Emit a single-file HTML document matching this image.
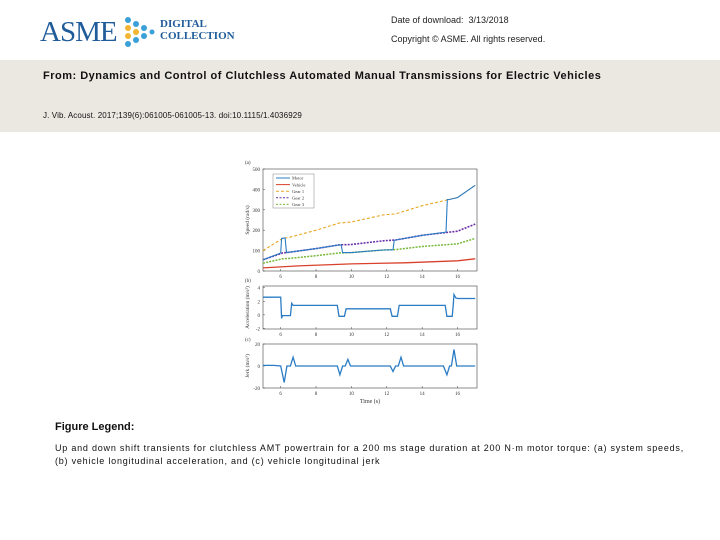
<!DOCTYPE html>
<html><head><meta charset="utf-8"><style>
body{margin:0;width:720px;height:540px;background:#fff;position:relative;overflow:hidden;font-family:"Liberation Sans",sans-serif}
.t{position:absolute;white-space:nowrap;color:#222}
</style></head><body>
<div style="position:absolute;left:38px;top:10px;width:200px;height:40px">
 <span style="position:absolute;left:2px;top:6px;font-family:'Liberation Serif',serif;font-size:29px;color:#1f5c99;letter-spacing:-1px">ASME</span>
 <svg style="position:absolute;left:84px;top:4px" width="34" height="34">
  <circle cx="6" cy="6" r="3" fill="#3aa0d8"/><circle cx="6" cy="14" r="3" fill="#f2b632"/><circle cx="6" cy="22" r="3" fill="#f2b632"/><circle cx="6" cy="30" r="3" fill="#3aa0d8"/>
  <circle cx="14" cy="10" r="3" fill="#3aa0d8"/><circle cx="14" cy="18" r="3" fill="#f2b632"/><circle cx="14" cy="26" r="3" fill="#3aa0d8"/>
  <circle cx="22" cy="14" r="3" fill="#3aa0d8"/><circle cx="22" cy="22" r="3" fill="#3aa0d8"/><circle cx="30" cy="18" r="2.5" fill="#3aa0d8"/>
 </svg>
 <span style="position:absolute;left:122px;top:8px;font-family:'Liberation Serif',serif;font-weight:bold;font-size:11px;color:#1f5c99;line-height:12px">DIGITAL<br>COLLECTION</span>
</div>
<div class="t" style="left:391px;top:15px;font-size:9px">Date of download:&nbsp; 3/13/2018</div>
<div class="t" style="left:391px;top:34px;font-size:9px">Copyright © ASME. All rights reserved.</div>
<div style="position:absolute;left:0;top:60px;width:720px;height:72px;background:#ebe8e2"></div>
<div class="t" style="left:43px;top:70px;font-size:11px;font-weight:bold;color:#111;letter-spacing:0.5px">From: Dynamics and Control of Clutchless Automated Manual Transmissions for Electric Vehicles</div>
<div class="t" style="left:43px;top:111px;font-size:8px;color:#111;letter-spacing:0.12px">J. Vib. Acoust. 2017;139(6):061005-061005-13. doi:10.1115/1.4036929</div>

<svg id="chart" style="position:absolute;left:0;top:0" width="720" height="540"></svg>

<div class="t" style="left:55px;top:421px;font-size:11px;font-weight:bold;color:#111">Figure Legend:</div>
<div class="t" style="left:55px;top:442px;font-size:9px;line-height:13px;color:#111;letter-spacing:0.78px">Up and down shift transients for clutchless AMT powertrain for a 200 ms stage duration at 200 N·m motor torque: (a) system speeds,<br>(b) vehicle longitudinal acceleration, and (c) vehicle longitudinal jerk</div>

<script>
const xTicks=[6,8,10,12,14,16];
const speedTicks=[0,100,200,300,400,500];
const accTicks=[-2,0,2,4];
const jerkTicks=[-20,0,20];
const motorT=[5,6.0,6.05,6.25,6.33,6.5,8,9.3,9.42,9.5,10,11.8,12.35,12.42,12.5,14,15.35,15.42,15.5,16,17];
const motorV=[55,88,160,162,90,92,110,128,128,90,90,103,104,150,152,175,190,350,350,360,420];
const vehT=[5,7,10,13,16,17];
const vehV=[15,25,35,40,50,60];
const gearT=[5,6.1,6.5,8,9.3,10,11.8,12.5,14,15.5,16,17];
const gear1V=[100,160,165,200,235,240,275,280,320,350,360,420];
const gear2V=[55,88,92,110,128,130,148,152,175,190,195,230];
const gear3V=[38,60,62,75,88,90,103,105,120,130,133,160];
const accT=[5,6.0,6.05,6.1,6.2,6.55,6.62,6.7,9.2,9.3,9.6,9.7,12.2,12.3,12.6,12.7,15.3,15.4,15.7,15.75,15.8,15.9,16,17];
const accV=[2.6,2.6,-0.5,-0.1,-0.1,-0.1,1.7,1.4,1.4,-0.2,-0.2,0.9,0.9,-0.2,-0.2,1.4,1.4,-0.2,-0.2,1.2,3.0,2.5,2.4,2.4];
const jerkT=[5,5.6,6.0,6.2,6.35,6.55,6.7,6.85,9.2,9.35,9.5,9.65,9.8,9.95,12.2,12.35,12.5,12.65,12.8,12.95,15.2,15.4,15.55,15.65,15.8,15.95,17];
const jerkV=[0.5,0.5,0,-15,0,0,8,0,0,-8,0,0,6,0,0,-5,0,0,8,0,0,-8,0,0,15,0,0];

const svg=document.getElementById('chart');const NS='http://www.w3.org/2000/svg';
function el(tag,a,p){const e=document.createElementNS(NS,tag);for(const k in a)e.setAttribute(k,a[k]);(p||svg).appendChild(e);return e;}
const X0=263,X1=477,T0=5,T1=17.1;
const sx=t=>X0+(t-T0)/(T1-T0)*(X1-X0);
function panel(top,bot,ymin,ymax,ticks,name,label){
 const sy=v=>bot-(v-ymin)/(ymax-ymin)*(bot-top);
 const r=el('rect',{x:X0,y:top,width:X1-X0,height:bot-top,fill:'#fff',stroke:'#444','stroke-width':0.6});
 
 ticks.forEach(v=>{const y=sy(v);el('line',{x1:X0,x2:X0+2,y1:y,y2:y,stroke:'#444','stroke-width':0.5});
  const tx=el('text',{x:X0-3,y:y+2,'font-size':5,'text-anchor':'end',fill:'#333','font-family':'Liberation Serif'});tx.textContent=v;
  });
 xTicks.forEach(t=>{const x=sx(t);el('line',{x1:x,x2:x,y1:bot,y2:bot-2,stroke:'#444','stroke-width':0.5});
  const tx=el('text',{x:x,y:bot+7,'font-size':5,'text-anchor':'middle',fill:'#333','font-family':'Liberation Serif'});tx.textContent=t;
  });
 const yl=el('text',{transform:`translate(${X0-14},${(top+bot)/2}) rotate(-90)`,'font-size':5.5,'text-anchor':'middle',fill:'#333','font-family':'Liberation Serif'});yl.textContent=label;
 
 return sy;}
function line(T,V,sy,color,dash,name,w){
 let d='';T.forEach((t,i)=>{d+=(i?'L':'M')+sx(t).toFixed(1)+','+sy(V[i]).toFixed(1);});
 const p=el('path',{d:d,fill:'none',stroke:color,'stroke-width':w||1,'stroke-dasharray':dash||'none'});
 }
const sa=panel(169,271,0,500,speedTicks,'speed-panel','Speed (rad/s)');
const sb=panel(286,329,-2.07,4.24,accTicks,'acceleration-panel','Acceleration (m/s²)');
const sc=panel(344,388,-20,20,jerkTicks,'jerk-panel','Jerk (m/s³)');
line(vehT,vehV,sa,'#d9412b','','vehicle-line',1.3);
line(gearT,gear1V,sa,'#e8a623','3,2','gear1-line',1.1);
line(gearT,gear2V,sa,'#6a2fa8','2,1.2','gear2-line',1.6);
line(gearT,gear3V,sa,'#77b83a','2,1.2','gear3-line',1.5);
line(motorT,motorV,sa,'#2a7cc4','','motor-line',1.1);
line(accT,accV,sb,'#2a7cc4','','acceleration-line',1.3);
line(jerkT,jerkV,sc,'#2a7cc4','','jerk-line',1.3);
[['(a)',164],['(b)',282],['(c)',341]].forEach(([s,y])=>{const t=el('text',{x:245,y:y,'font-size':5,fill:'#333','font-family':'Liberation Serif'});t.textContent=s;
 });
const xl=el('text',{x:370,y:403,'font-size':6,'text-anchor':'middle',fill:'#333','font-family':'Liberation Serif'});xl.textContent='Time (s)';

const lg=el('g',{});
el('rect',{x:273,y:174,width:41,height:34,fill:'#fff',stroke:'#666','stroke-width':0.4},lg);
[['Motor','#2a7cc4',''],['Vehicle','#d9412b',''],['Gear 1','#e8a623','3,2'],['Gear 2','#6a2fa8','2,1.5'],['Gear 3','#77b83a','2,1.5']].forEach(([n,c,d],i)=>{
 const y=178+i*6.6;const li=el('line',{x1:276,x2:290,y1:y,y2:y,stroke:c,'stroke-width':1,'stroke-dasharray':d||'none'},lg);
 
 const t=el('text',{x:292,y:y+1.7,'font-size':4.5,fill:'#333','font-family':'Liberation Serif'},lg);t.textContent=n;
 });
</script>
</body></html>
